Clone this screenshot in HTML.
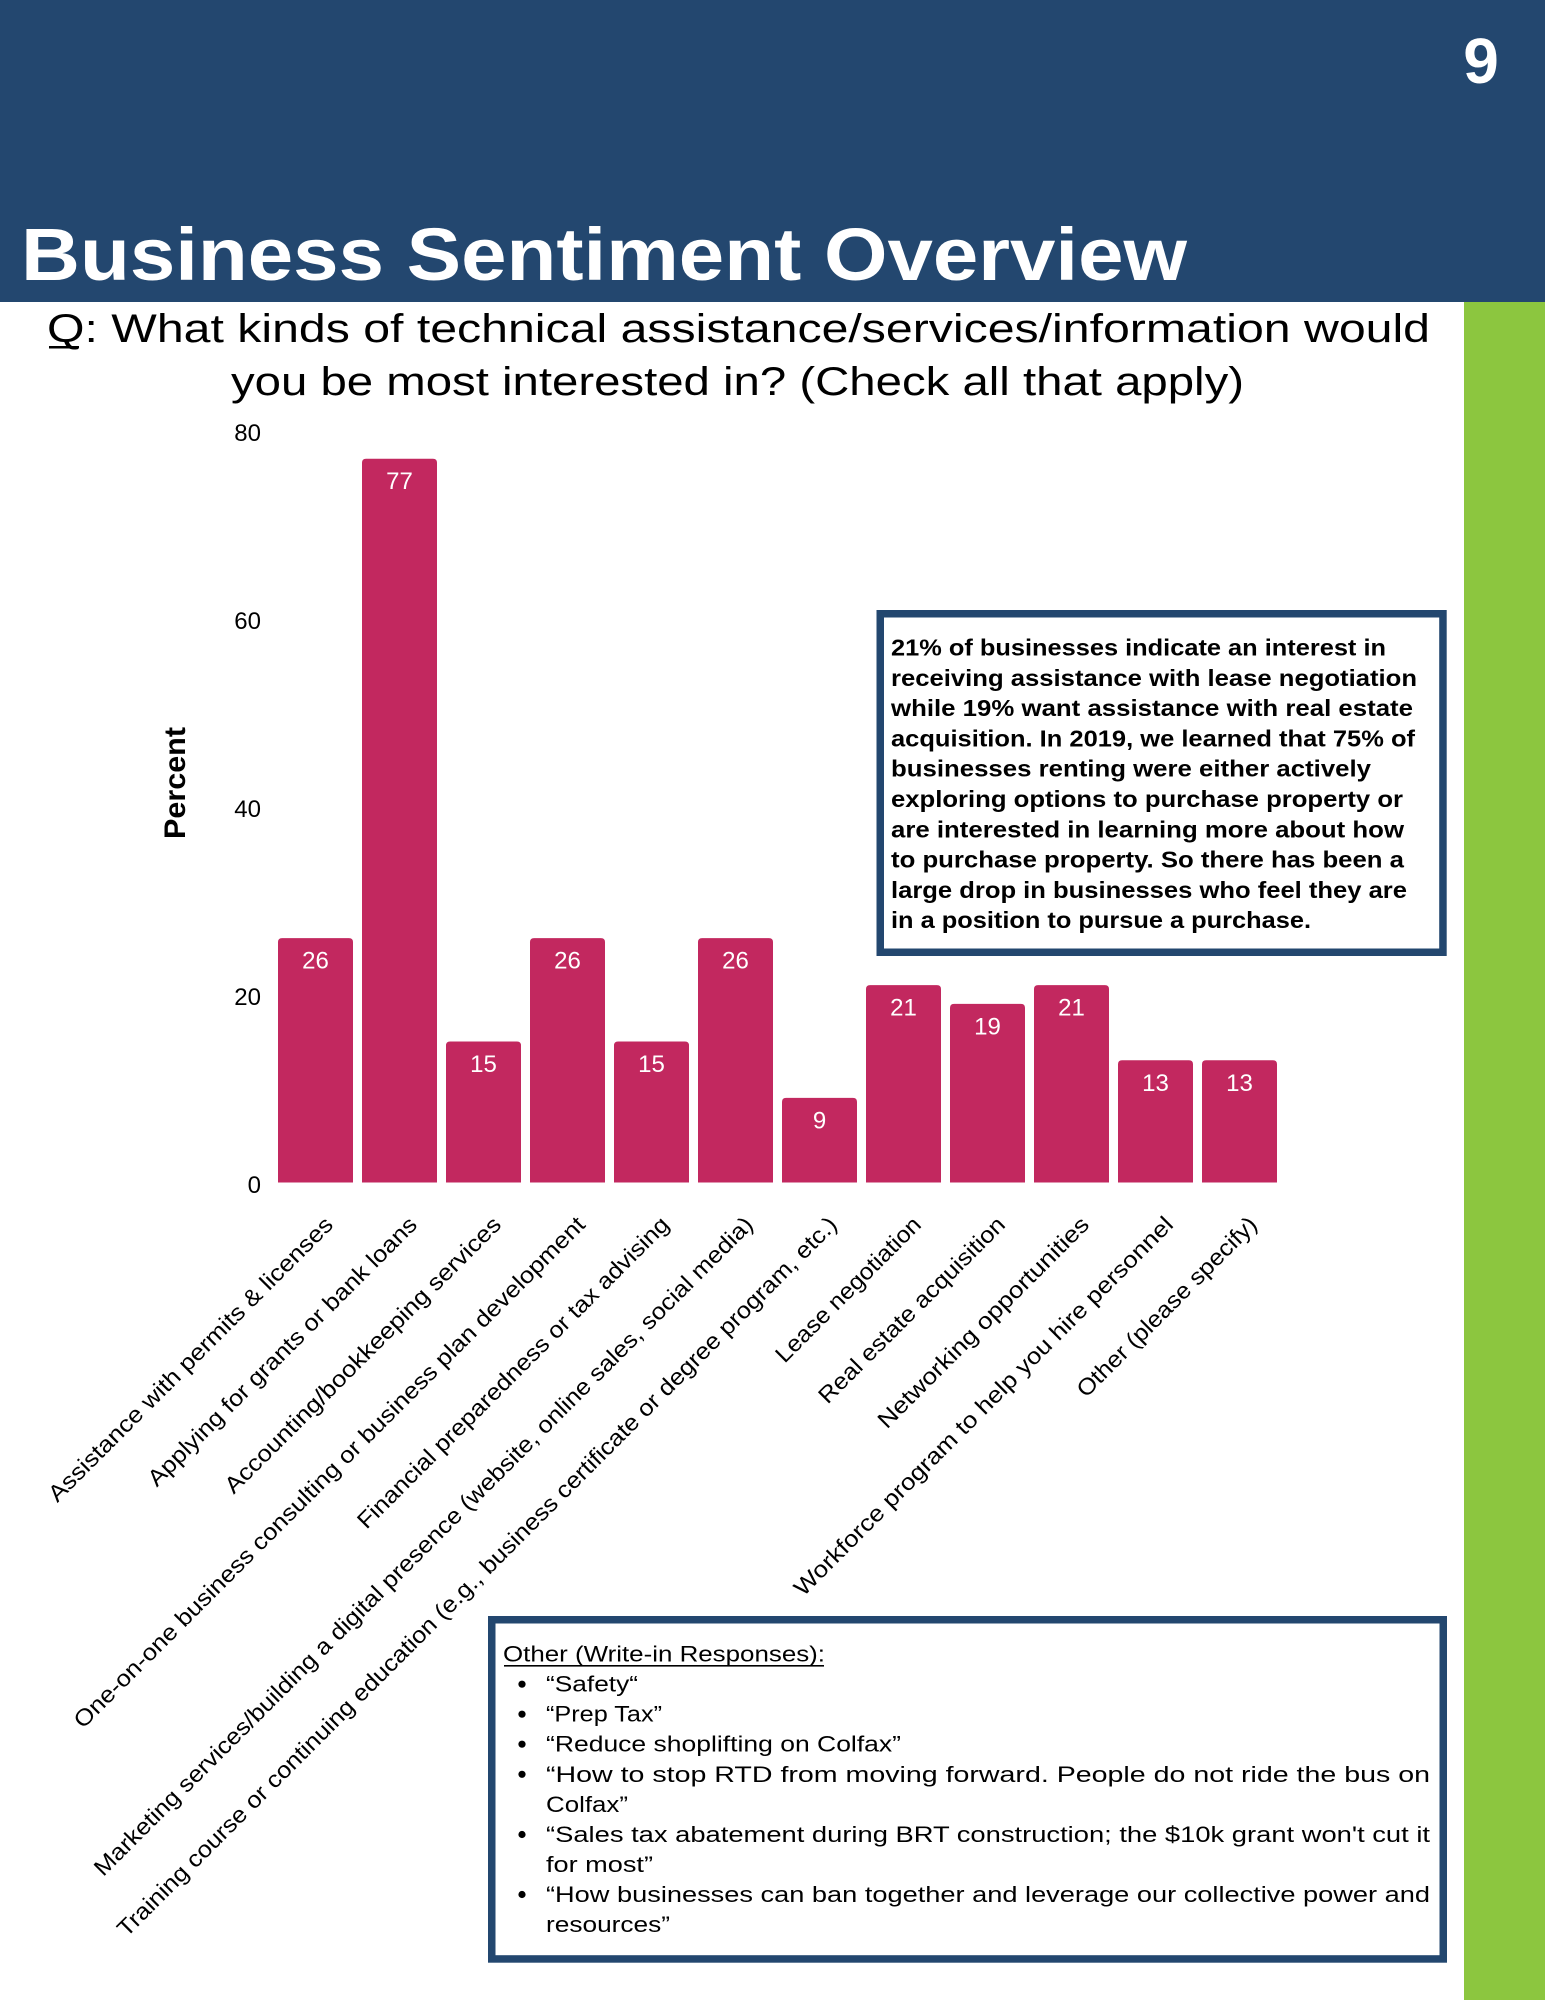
<!DOCTYPE html>
<html><head><meta charset="utf-8"><style>
html,body{margin:0;padding:0;background:#fff;}
svg{display:block;}
text{font-family:"Liberation Sans",Arial,sans-serif;}
</style></head><body>
<svg width="1545" height="2000" viewBox="0 0 1545 2000" xmlns="http://www.w3.org/2000/svg">
<rect x="0" y="0" width="1545" height="2000" fill="#ffffff"/>
<!-- header -->
<rect x="0" y="0" width="1545" height="302" fill="#23476f"/>
<text x="1481" y="83" font-size="64" font-weight="bold" fill="#fff" text-anchor="middle">9</text>
<text x="21" y="280" font-size="74" font-weight="bold" fill="#fff" textLength="1166" lengthAdjust="spacingAndGlyphs">Business Sentiment Overview</text>
<!-- green side bar -->
<rect x="1464" y="302" width="81" height="1698" fill="#8cc63f"/>
<!-- question -->
<text x="47" y="342" font-size="40" fill="#000" textLength="1383" lengthAdjust="spacingAndGlyphs">Q: What kinds of technical assistance/services/information would</text>
<rect x="49" y="346" width="30" height="2.5" fill="#000"/>
<text x="231" y="395" font-size="40" fill="#000" textLength="1013" lengthAdjust="spacingAndGlyphs">you be most interested in? (Check all that apply)</text>
<!-- y axis -->
<g font-size="24" fill="#000" text-anchor="end">
<text x="261" y="441">80</text>
<text x="261" y="629">60</text>
<text x="261" y="817">40</text>
<text x="261" y="1005">20</text>
<text x="261" y="1193">0</text>
</g>
<text transform="translate(185,783) rotate(-90)" font-size="30" font-weight="bold" fill="#000" text-anchor="middle" textLength="112" lengthAdjust="spacingAndGlyphs">Percent</text>
<!-- bars -->
<g fill="#c2285f">
<path d="M278,1182.5 V942.1 Q278,938.1 282,938.1 H349 Q353,938.1 353,942.1 V1182.5 Z"/>
<path d="M362,1182.5 V462.7 Q362,458.7 366,458.7 H433 Q437,458.7 437,462.7 V1182.5 Z"/>
<path d="M446,1182.5 V1045.5 Q446,1041.5 450,1041.5 H517 Q521,1041.5 521,1045.5 V1182.5 Z"/>
<path d="M530,1182.5 V942.1 Q530,938.1 534,938.1 H601 Q605,938.1 605,942.1 V1182.5 Z"/>
<path d="M614,1182.5 V1045.5 Q614,1041.5 618,1041.5 H685 Q689,1041.5 689,1045.5 V1182.5 Z"/>
<path d="M698,1182.5 V942.1 Q698,938.1 702,938.1 H769 Q773,938.1 773,942.1 V1182.5 Z"/>
<path d="M782,1182.5 V1101.9 Q782,1097.9 786,1097.9 H853 Q857,1097.9 857,1101.9 V1182.5 Z"/>
<path d="M866,1182.5 V989.1 Q866,985.1 870,985.1 H937 Q941,985.1 941,989.1 V1182.5 Z"/>
<path d="M950,1182.5 V1007.9 Q950,1003.9 954,1003.9 H1021 Q1025,1003.9 1025,1007.9 V1182.5 Z"/>
<path d="M1034,1182.5 V989.1 Q1034,985.1 1038,985.1 H1105 Q1109,985.1 1109,989.1 V1182.5 Z"/>
<path d="M1118,1182.5 V1064.3 Q1118,1060.3 1122,1060.3 H1189 Q1193,1060.3 1193,1064.3 V1182.5 Z"/>
<path d="M1202,1182.5 V1064.3 Q1202,1060.3 1206,1060.3 H1273 Q1277,1060.3 1277,1064.3 V1182.5 Z"/>
</g>
<g font-size="24" fill="#fff" text-anchor="middle">
<text x="315.5" y="968.6">26</text>
<text x="399.5" y="489.2">77</text>
<text x="483.5" y="1072">15</text>
<text x="567.5" y="968.6">26</text>
<text x="651.5" y="1072">15</text>
<text x="735.5" y="968.6">26</text>
<text x="819.5" y="1128.4">9</text>
<text x="903.5" y="1015.6">21</text>
<text x="987.5" y="1034.4">19</text>
<text x="1071.5" y="1015.6">21</text>
<text x="1155.5" y="1090.8">13</text>
<text x="1239.5" y="1090.8">13</text>
</g>
<!-- x labels -->
<g font-size="23" fill="#000" text-anchor="end">
<text transform="translate(334.5,1226) rotate(-45)" textLength="392" lengthAdjust="spacingAndGlyphs">Assistance with permits &amp; licenses</text>
<text transform="translate(418.5,1226) rotate(-45)" textLength="370" lengthAdjust="spacingAndGlyphs">Applying for grants or bank loans</text>
<text transform="translate(502.5,1226) rotate(-45)" textLength="380" lengthAdjust="spacingAndGlyphs">Accounting/bookkeeping services</text>
<text transform="translate(586.5,1226) rotate(-45)" textLength="712" lengthAdjust="spacingAndGlyphs">One-on-one business consulting or business plan development</text>
<text transform="translate(670.5,1226) rotate(-45)" textLength="430" lengthAdjust="spacingAndGlyphs">Financial preparedness or tax advising</text>
<text transform="translate(754.5,1226) rotate(-45)" textLength="921" lengthAdjust="spacingAndGlyphs">Marketing services/building a digital presence (website, online sales, social media)</text>
<text transform="translate(838.5,1226) rotate(-45)" textLength="1007" lengthAdjust="spacingAndGlyphs">Training course or continuing education (e.g., business certificate or degree program, etc.)</text>
<text transform="translate(922.5,1226) rotate(-45)" textLength="195" lengthAdjust="spacingAndGlyphs">Lease negotiation</text>
<text transform="translate(1006.5,1226) rotate(-45)" textLength="253" lengthAdjust="spacingAndGlyphs">Real estate acquisition</text>
<text transform="translate(1090.5,1226) rotate(-45)" textLength="288" lengthAdjust="spacingAndGlyphs">Networking opportunities</text>
<text transform="translate(1174.5,1226) rotate(-45)" textLength="525" lengthAdjust="spacingAndGlyphs">Workforce program to help you hire personnel</text>
<text transform="translate(1258.5,1226) rotate(-45)" textLength="244" lengthAdjust="spacingAndGlyphs">Other (please specify)</text>
</g>
<!-- annotation box -->
<rect x="880.25" y="613.75" width="562.7" height="338.5" fill="#fff" stroke="#23476f" stroke-width="7.5"/>
<g font-size="23" font-weight="bold" fill="#000">
<text x="891" y="655.5" textLength="495" lengthAdjust="spacingAndGlyphs">21% of businesses indicate an interest in</text>
<text x="891" y="685.8" textLength="526" lengthAdjust="spacingAndGlyphs">receiving assistance with lease negotiation</text>
<text x="891" y="716.1" textLength="522" lengthAdjust="spacingAndGlyphs">while 19% want assistance with real estate</text>
<text x="891" y="746.4" textLength="524" lengthAdjust="spacingAndGlyphs">acquisition. In 2019, we learned that 75% of</text>
<text x="891" y="776.7" textLength="480" lengthAdjust="spacingAndGlyphs">businesses renting were either actively</text>
<text x="891" y="807" textLength="512" lengthAdjust="spacingAndGlyphs">exploring options to purchase property or</text>
<text x="891" y="837.3" textLength="513" lengthAdjust="spacingAndGlyphs">are interested in learning more about how</text>
<text x="891" y="867.6" textLength="513" lengthAdjust="spacingAndGlyphs">to purchase property. So there has been a</text>
<text x="891" y="897.9" textLength="516" lengthAdjust="spacingAndGlyphs">large drop in businesses who feel they are</text>
<text x="891" y="928.2" textLength="420" lengthAdjust="spacingAndGlyphs">in a position to pursue a purchase.</text>
</g>
<!-- write-in box -->
<rect x="491.75" y="1619.75" width="951.5" height="339.2" fill="#fff" stroke="#23476f" stroke-width="7.5"/>
<g font-size="22" fill="#000">
<text x="503" y="1661.7" textLength="322" lengthAdjust="spacingAndGlyphs">Other (Write-in Responses):</text>
<rect x="504" y="1665" width="320" height="1.6" fill="#000"/>
<text x="546" y="1691.7" textLength="92" lengthAdjust="spacingAndGlyphs">“Safety“</text>
<text x="546" y="1721.7" textLength="116" lengthAdjust="spacingAndGlyphs">“Prep Tax”</text>
<text x="546" y="1751.7" textLength="355" lengthAdjust="spacingAndGlyphs">“Reduce shoplifting on Colfax”</text>
<text x="546" y="1781.8" textLength="884" lengthAdjust="spacingAndGlyphs">“How to stop RTD from moving forward. People do not ride the bus on</text>
<text x="546" y="1811.8" textLength="82" lengthAdjust="spacingAndGlyphs">Colfax”</text>
<text x="546" y="1842" textLength="884" lengthAdjust="spacingAndGlyphs">“Sales tax abatement during BRT construction; the $10k grant won't cut it</text>
<text x="546" y="1872" textLength="107" lengthAdjust="spacingAndGlyphs">for most”</text>
<text x="546" y="1902" textLength="884" lengthAdjust="spacingAndGlyphs">“How businesses can ban together and leverage our collective power and</text>
<text x="546" y="1932" textLength="124" lengthAdjust="spacingAndGlyphs">resources”</text>
</g>
<g fill="#000">
<circle cx="522" cy="1684.2" r="3.6"/>
<circle cx="522" cy="1714.2" r="3.6"/>
<circle cx="522" cy="1744.2" r="3.6"/>
<circle cx="522" cy="1774.3" r="3.6"/>
<circle cx="522" cy="1834.5" r="3.6"/>
<circle cx="522" cy="1894.5" r="3.6"/>
</g>
</svg>
</body></html>
